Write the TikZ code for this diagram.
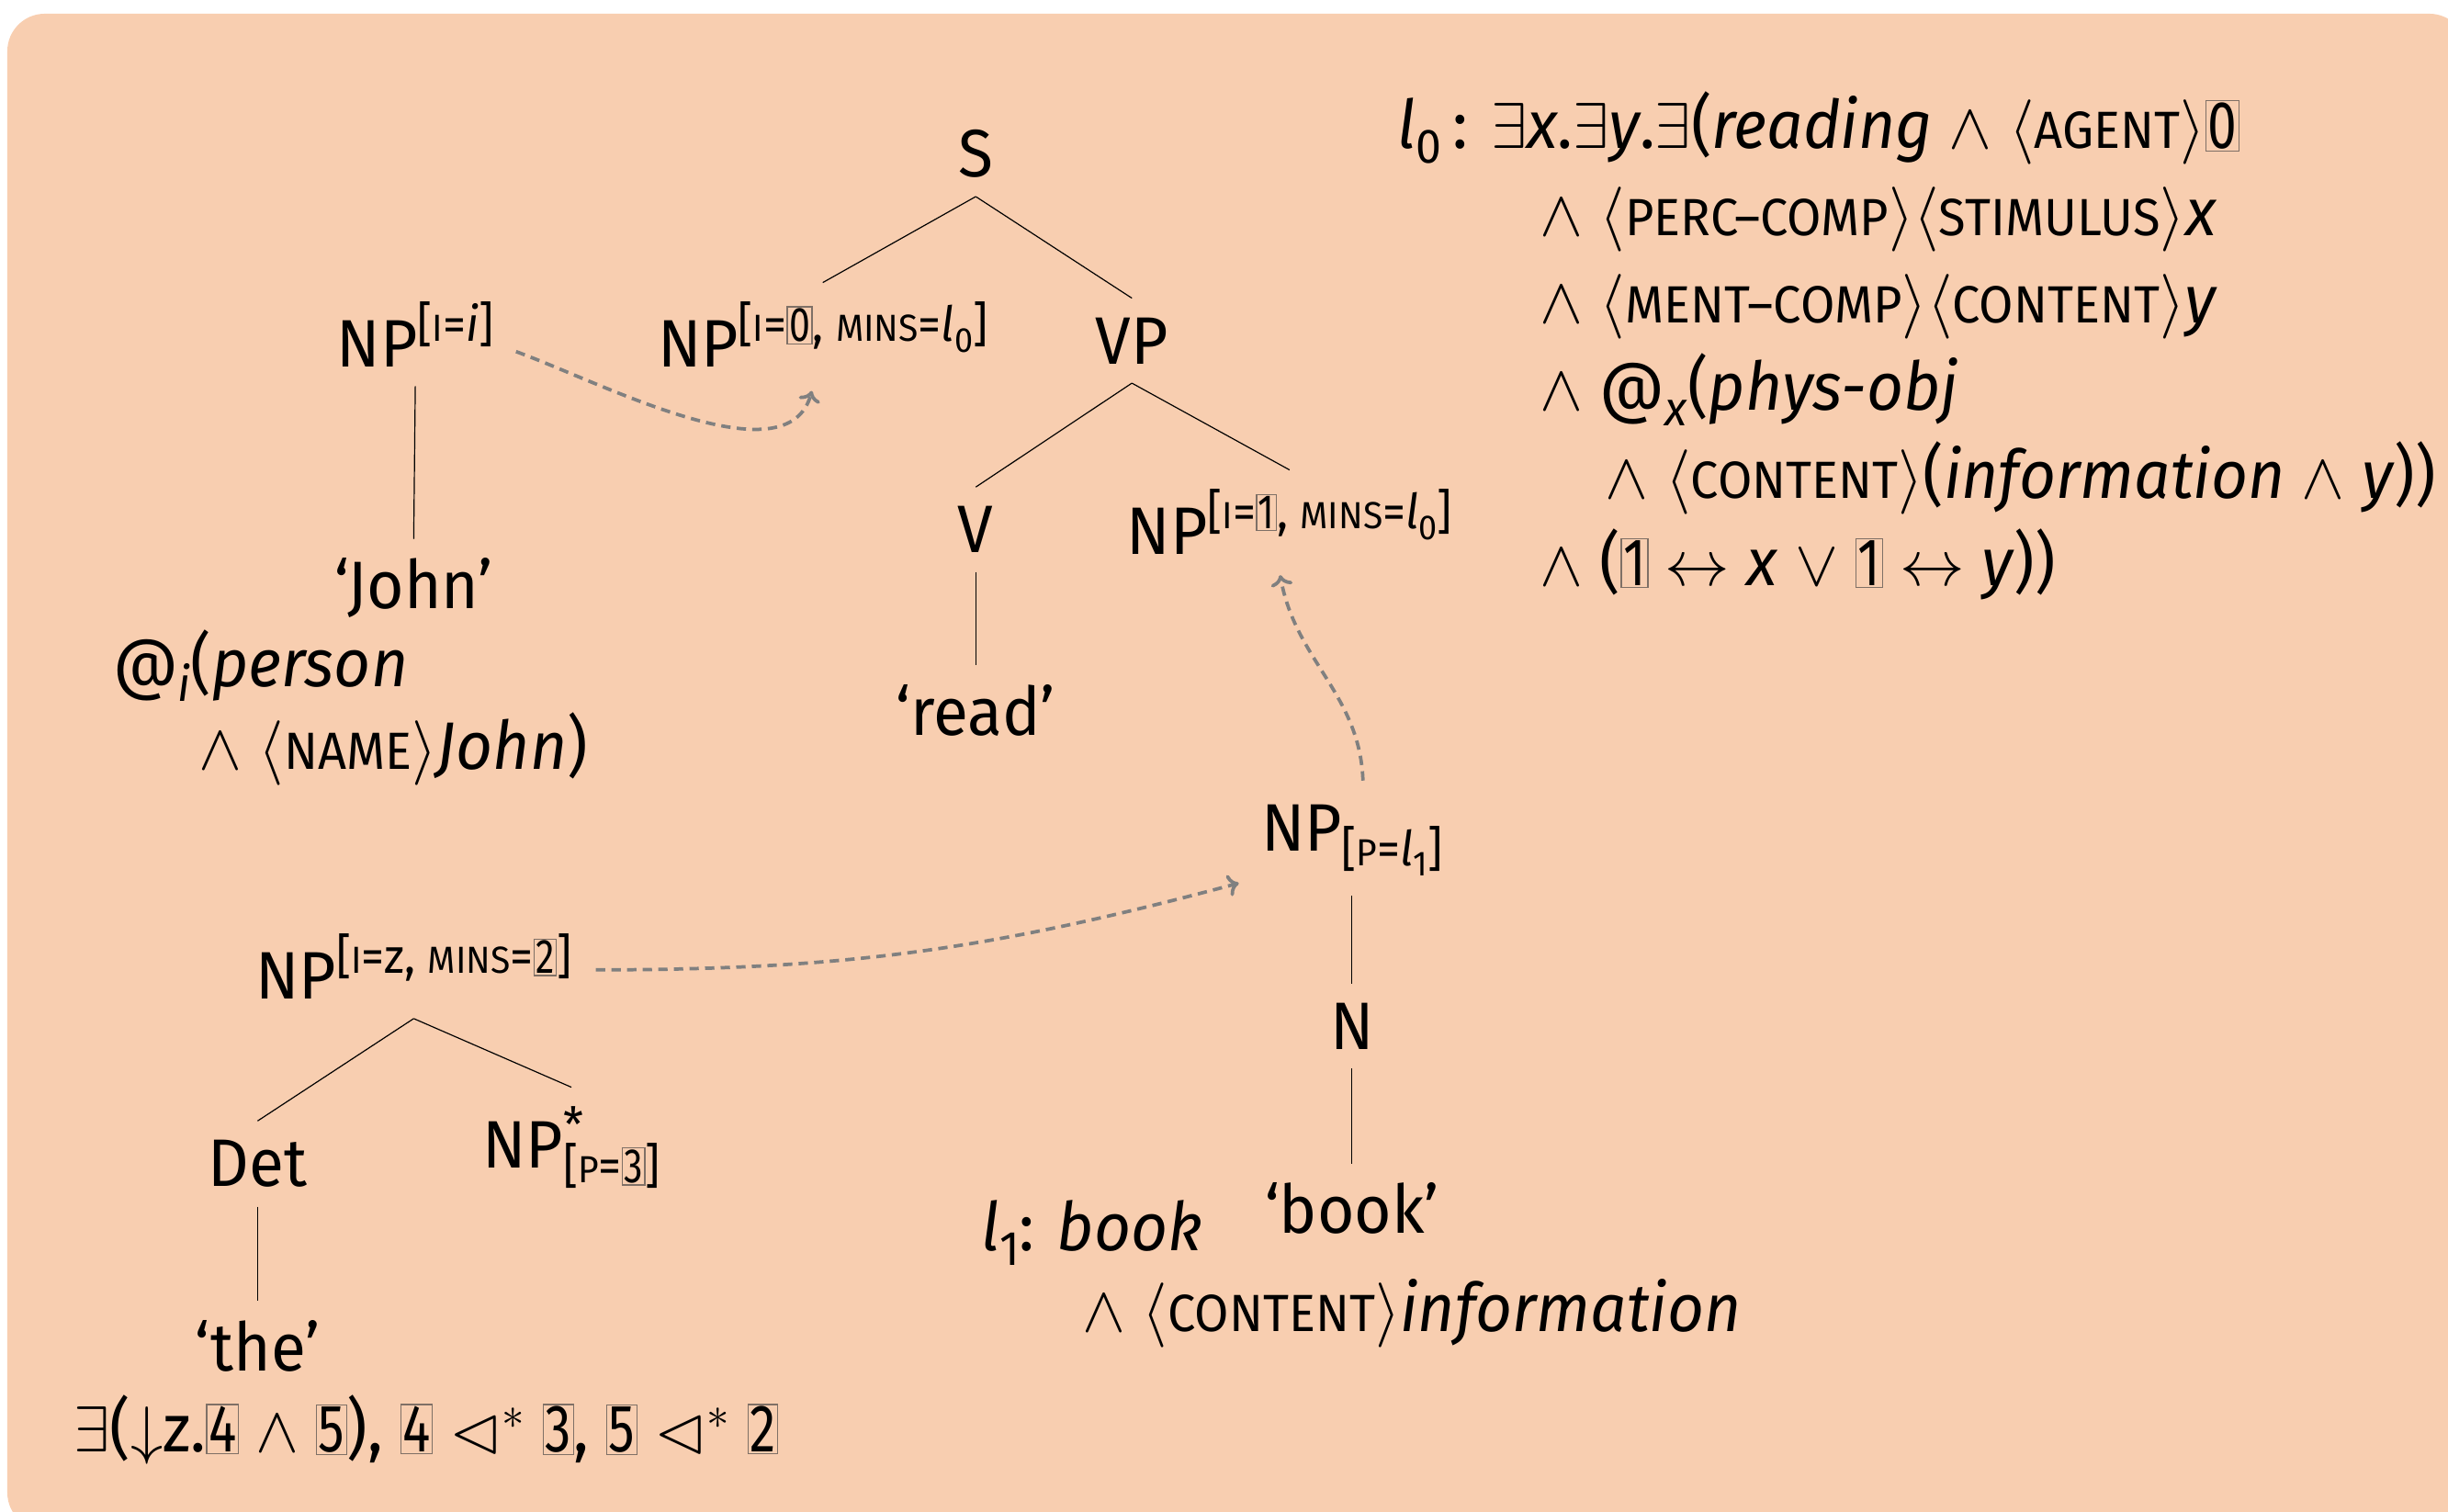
\documentclass[tikz,border=0pt]{standalone}
\usepackage{fontspec}
\usepackage{amssymb}
\usepackage{graphicx}
\setmainfont{Fira Sans}[FakeStretch=0.95]
\usetikzlibrary{calc,arrows.meta}
\definecolor{bgc}{HTML}{F8CEB0}
\definecolor{arr}{HTML}{808080}
\definecolor{boxc}{HTML}{7F7066}
\makeatletter
\newcommand\SC[1]{{\fontsize{\fpeval{0.78*\f@size}}{0}\selectfont #1}}
\newcommand\Sup[1]{\raisebox{0.38em}{\fontsize{\fpeval{0.72*\f@size}}{0}\selectfont #1}}
\newcommand\Sub[1]{\raisebox{-0.22em}{\fontsize{\fpeval{0.72*\f@size}}{0}\selectfont #1}}
\makeatother
\newcommand\bx[1]{{\setlength\fboxsep{0.4pt}\setlength\fboxrule{0.4pt}\color{boxc}\fbox{\color{black}\scalebox{0.82}[1]{#1}}}}
\newcommand\dom{$\mathrel{\lhd}^{*}$}
\begin{document}
\begin{tikzpicture}[x=0.5pt,y=0.5pt,
 every node/.style={font=\fontsize{21.5}{28}\selectfont, inner xsep=2pt, inner ysep=6pt},
 lbl/.style={anchor=base},
 txt/.style={anchor=base west, inner sep=0pt},
 edge/.style={draw=black, line width=0.35pt},
 link/.style={draw=arr, line width=1.1pt, dash pattern=on 3pt off 2pt, -{To[length=3.5pt,width=7pt]}}]
\path[use as bounding box] (0,0) rectangle (1568,-968);
\fill[bgc, rounded corners=12pt] (4.7,-8.8) rectangle (1580,-980);

% tree for 'read'
\node[lbl] (S) at (625,-113) {S};
\node[lbl] (NP0) at (527,-235) {NP\Sup{[\SC{I}=\bx{0}, \SC{MINS}=\textit{l}\Sub{0}]}};
\node[lbl] (VP) at (725,-233) {VP};
\node[lbl] (V) at (625,-354) {V};
\node[lbl] (NP1) at (826,-355) {NP\Sup{[\SC{I}=\bx{1}, \SC{MINS}=\textit{l}\Sub{0}]}};
\node[lbl] (read) at (625,-471) {‘read’};
\draw[edge] (S.south) -- (NP0.north);
\draw[edge] (S.south) -- (VP.north);
\draw[edge] (VP.south) -- (V.north);
\draw[edge] (VP.south) -- (NP1.north);
\draw[edge] (V.south) -- (read.north);

% formula for 'read'
\node[txt] (f1) at (895,-95) {\textit{l}\Sub{0}\,: $\exists$\textit{x}.$\exists$\textit{y}.$\exists$(\textit{reading} $\wedge$ $\langle$\SC{AGENT}$\rangle$\bx{0}};
\node[txt] (f2) at (986,-151) {$\wedge$ $\langle$\SC{PERC--COMP}$\rangle\langle$\SC{STIMULUS}$\rangle$\textit{x}};
\node[txt] (f3) at (986,-207) {$\wedge$ $\langle$\SC{MENT--COMP}$\rangle\langle$\SC{CONTENT}$\rangle$\textit{y}};
\node[txt] (f4) at (986,-263) {$\wedge$ @\Sub{\textit{x}}(\textit{phys-obj}};
\node[txt] (f5) at (1028,-319) {$\wedge$ $\langle$\SC{CONTENT}$\rangle$(\textit{information} $\wedge$ \textit{y}))};
\node[txt] (f6) at (986,-375) {$\wedge$ (\bx{1} $\leftrightarrow$ \textit{x} $\vee$ \bx{1} $\leftrightarrow$ \textit{y}))};

% tree for 'John'
\node[lbl] (NPi) at (266,-235) {NP\Sup{[\SC{I}=\textit{i}]}};
\node[lbl] (John) at (265,-390) {‘John’};
\draw[edge] (NPi.south) -- (John.north);
\node[txt] (j1) at (72,-440) {@\Sub{\textit{i}}(\textit{person}};
\node[txt] (j2) at (127,-493) {$\wedge$ $\langle$\SC{NAME}$\rangle$\textit{John})};

% tree for 'book'
\node[lbl] (NPp) at (866,-545) {NP\Sub{[\SC{P}=\textit{l}\Sub{1}]}};
\node[lbl] (N) at (866,-672) {N};
\node[lbl] (book) at (866,-790) {‘book’};
\draw[edge] (NPp.south) -- (N.north);
\draw[edge] (N.south) -- (book.north);
\node[txt] (b1) at (628,-801) {\textit{l}\Sub{1}: \textit{book}};
\node[txt] (b2) at (693,-853) {$\wedge$ $\langle$\SC{CONTENT}$\rangle$\textit{information}};

% tree for 'the'
\node[lbl] (NPz) at (265,-640) {NP\Sup{[\SC{I}=z, \SC{MINS}=\bx{2}]}};
\node[lbl] (Det) at (165,-760) {Det};
\node[lbl] (NPs) at (366,-748) {NP\rlap{\Sup{*}}\Sub{[\SC{P}=\bx{3}]}};
\node[lbl] (the) at (165,-878) {‘the’};
\draw[edge] (NPz.south) -- (Det.north);
\draw[edge] (NPz.south) -- (NPs.north);
\draw[edge] (Det.south) -- (the.north);
\node[txt] (t1) at (47,-930) {$\exists$($\downarrow$z.\bx{4} $\wedge$ \bx{5}), \bx{4} \dom\ \bx{3}, \bx{5} \dom\ \bx{2}};

% dashed links
\draw[link] ($(NPi.east)+(10,-11)$) to[out=-20,in=-105,looseness=0.8] ($(NP0.south)+(-7,-3)$);
\draw[link] ($(NPp.north)+(7,3)$) to[out=92,in=-80] ($(NP1.south)+(-6,-1)$);
\draw[link] ($(NPz.east)+(11,-2)$) to[out=0,in=-165] ($(NPp.south west)+(-10,8)$);
\end{tikzpicture}
\end{document}
